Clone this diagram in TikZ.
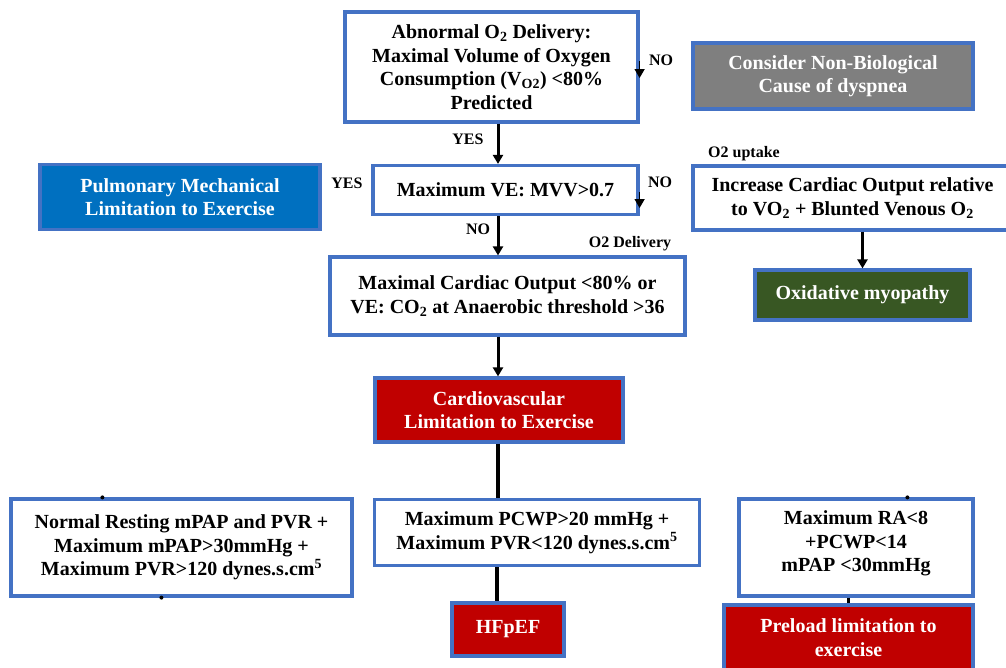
\documentclass[tikz,border=0pt]{standalone}
\usepackage{fontspec}
\setmainfont{Liberation Serif}
\usetikzlibrary{arrows.meta,calc}
\definecolor{bblue}{RGB}{68,114,196}
\definecolor{pblue}{RGB}{0,112,192}
\definecolor{dgrey}{RGB}{127,127,127}
\definecolor{dgreen}{RGB}{56,87,35}
\definecolor{dred}{RGB}{192,0,0}
\tikzset{
  boxfont/.style={font=\fontsize{20}{23.5}\selectfont\bfseries},
  box/.style={draw=bblue, line width=3.2pt, fill=white, align=center, inner sep=0pt, boxfont},
  fbox/.style={box, text=white},
  lbl/.style={font=\fontsize{16}{18}\selectfont\bfseries, inner sep=0pt},
  arr/.style={line width=3pt, -{Triangle[length=9pt,width=10pt]}},
  sarr/.style={line width=1.5pt, -{Triangle[length=9pt,width=10pt]}},
  conn/.style={line width=3.2pt},
}
\begin{document}
\begin{tikzpicture}[x=1pt,y=-1pt]
\useasboundingbox (0,0) rectangle (1006,667);
\coordinate (cx) at (498,0);
% boxes
\node[box, minimum width=293pt, minimum height=110pt] (A) at (491.5,67)
  {Abnormal O\textsubscript{2} Delivery:\\Maximal Volume of Oxygen\\Consumption (V\textsubscript{O2}) <80\%\\Predicted};
\node[fbox, fill=dgrey, minimum width=280pt, minimum height=66pt] (G0) at (833,76)
  {Consider Non-Biological\\Cause of dyspnea};
\node[fbox, fill=pblue, minimum width=280pt, minimum height=65pt] (P) at (180,197)
  {Pulmonary Mechanical\\Limitation to Exercise};
\node[box, minimum width=265pt, minimum height=49pt] (B) at (505.5,190)
  {Maximum VE: MVV>0.7};
\node[box, minimum width=319pt, minimum height=64pt] (G) at (852.5,198)
  {Increase Cardiac Output relative\\to VO\textsubscript{2} + Blunted Venous O\textsubscript{2}};
\node[fbox, fill=dgreen, minimum width=215pt, minimum height=50pt] (Ox) at (862.5,295)
  {Oxidative myopathy};
\node[box, minimum width=355pt, minimum height=78pt] (C) at (507.5,296)
  {Maximal Cardiac Output <80\% or\\VE: CO\textsubscript{2} at Anaerobic threshold >36};
\node[fbox, fill=dred, minimum width=248pt, minimum height=64pt] (CV) at (499,410)
  {Cardiovascular\\Limitation to Exercise};
\node[box, minimum width=325pt, minimum height=66pt] (D) at (537,532.5)
  {Maximum PCWP>20 mmHg +\\Maximum PVR<120 dynes.s.cm\textsuperscript{5}};
\node[fbox, fill=dred, minimum width=112pt, minimum height=53pt] (H) at (508,629.5)
  {HFpEF};
\node[box, minimum width=341pt, minimum height=97pt] (E) at (181.5,547.5)
  {Normal Resting mPAP and PVR +\\Maximum mPAP>30mmHg +\\Maximum PVR>120 dynes.s.cm\textsuperscript{5}};
\node[box, minimum width=234pt, minimum height=97pt] (F) at (856,547.5) {};
\node[boxfont, align=center, inner sep=0pt] (Ft) at ($(F.center)+(0,-4)$)
  {Maximum RA<8\\+PCWP<14\\mPAP <30mmHg};
\node[fbox, fill=dred, minimum width=249pt, minimum height=65pt] (PL) at (848.5,637.5)
  {Preload limitation to\\exercise};
% connectors
\draw[arr] (A.south -| cx) -- (B.north -| cx);
\draw[arr] (B.south -| cx) -- (C.north -| cx);
\draw[arr] (C.south -| cx) -- (CV.north -| cx);
\draw[arr] (G.south -| Ox.north) -- (Ox.north);
\draw[conn] (CV.south -| cx) -- (D.north -| cx);
\draw[conn] (D.south -| H.north) ++(-11,0) coordinate (dh) -- (dh |- H.north);
\draw[conn] (F.south -| PL.north) -- (PL.north);
\draw[sarr] ($(A.east)+(0,-6)$) -- ($(A.east)+(0,11)$);
\draw[sarr] ($(B.east)+(0,2)$) -- ($(B.east)+(0,18)$);
% dots
\fill ($(E.north west)+(93,0)$) circle (2);
\fill ($(E.south west)+(152,0)$) circle (2);
\fill ($(F.north west)+(170,0)$) circle (2);
% labels
\node[lbl] (l1) at (468,139) {YES};
\node[lbl] (l2) at (661,60) {NO};
\node[lbl] (l3) at (347,183) {YES};
\node[lbl] (l4) at (660,182) {NO};
\node[lbl] (l5) at (478,229) {NO};
\node[lbl] (l6) at (744,154) {O2 uptake};
\node[lbl] (l7) at (630,244) {O2 Delivery};
\end{tikzpicture}
\end{document}
